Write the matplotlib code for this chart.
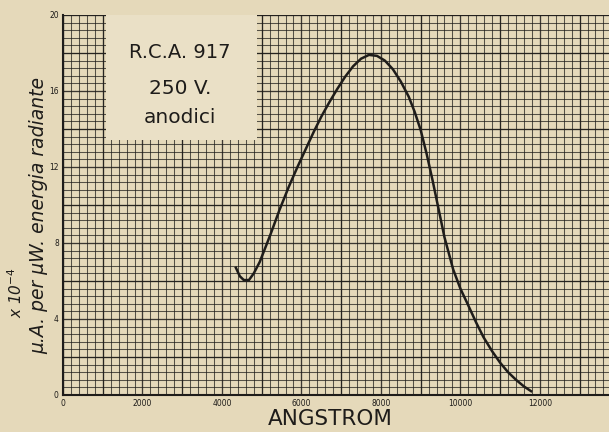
import matplotlib.pyplot as plt
import numpy as np
from matplotlib.patches import Rectangle
from matplotlib.ticker import MultipleLocator

# curva di sensibilita' spettrale
angstrom = [4350, 4450, 4550, 4680, 4800, 4950, 5100, 5230, 5450, 5680, 5900,
            6110, 6310, 6500, 6700, 6900, 7100, 7300, 7500, 7700, 7900, 8100,
            8300, 8500, 8700, 8850, 9000, 9150, 9300, 9450, 9600, 9820, 10000,
            10180, 10400, 10580, 10800, 11000, 11200, 11400, 11600, 11780]
corrente = [6.7, 6.25, 6.05, 6.05, 6.4, 7.0, 7.8, 8.5, 9.75, 10.95, 12.0,
            12.95, 13.85, 14.65, 15.4, 16.1, 16.75, 17.3, 17.7, 17.9, 17.85, 17.6,
            17.15, 16.5, 15.7, 14.9, 13.95, 12.7, 11.3, 9.8, 8.3, 6.6, 5.6,
            4.8, 3.8, 3.05, 2.3, 1.7, 1.2, 0.8, 0.45, 0.2]

xticks = [0, 2000, 4000, 6000, 8000, 10000, 12000]
yticks = [0, 4, 8, 12, 16, 20]

carta = "#e5d9ba"
inchiostro = "#1e1c1a"

fig = plt.figure(figsize=(6.09, 4.32), dpi=100, facecolor=carta)
ax = fig.add_axes([63 / 609, 1 - 395 / 432, 1 - 63 / 609, 380 / 432])
ax.set_facecolor(carta)

ax.set_xlim(0, 13740)
ax.set_ylim(0, 20)
ax.set_xticks(xticks)
ax.set_yticks(yticks)
ax.xaxis.set_minor_locator(MultipleLocator(200))
ax.yaxis.set_minor_locator(MultipleLocator(0.4))
ax.set_axisbelow(True)
ax.grid(which="minor", color=inchiostro, lw=0.75, alpha=0.72)
ax.grid(which="major", color=inchiostro, lw=0.95, alpha=0.85)
# righe un po' piu' marcate ogni 1000 A e ogni 2 unita'
for xv in np.arange(1000, 14000, 2000):
    ax.axvline(xv, color=inchiostro, lw=0.95, alpha=0.85, zorder=0.6)
for yv in np.arange(2, 20, 4):
    ax.axhline(yv, color=inchiostro, lw=0.95, alpha=0.85, zorder=0.6)
ax.axhline(20, color=inchiostro, lw=1.2, zorder=0.6)

ax.tick_params(which="both", length=0, labelsize=5.5, colors=inchiostro, pad=3)
ax.set_xticklabels([str(t) for t in xticks])
ax.set_yticklabels([str(t) for t in yticks])

for s in ["top", "right"]:
    ax.spines[s].set_visible(False)
for s in ["left", "bottom"]:
    ax.spines[s].set_color(inchiostro)
    ax.spines[s].set_linewidth(1.5)

# riquadro con la legenda del tubo
ax.add_patch(Rectangle((1080, 13.4), 3800, 6.6, facecolor="#eae0c6",
                       edgecolor="none", zorder=1))
ax.text(2950, 18.05, "R.C.A. 917", ha="center", va="center", fontsize=14,
        color=inchiostro, zorder=3)
ax.text(2950, 16.15, "250 V.", ha="center", va="center", fontsize=14.5,
        color=inchiostro, zorder=3)
ax.text(2950, 14.6, "anodici", ha="center", va="center", fontsize=14.5,
        color=inchiostro, zorder=3)

ax.plot(angstrom, corrente, color=inchiostro, lw=1.8, zorder=2,
        solid_joinstyle="round")

fig.text(330 / 609, 1 - 419 / 432, "ANGSTROM", ha="center", va="center",
         fontsize=15.5, color=inchiostro)
fig.text(39 / 609, 1 - 216 / 432, "\u03bc.A. per \u03bcW. energia radiante",
         rotation=90, ha="center", va="center", fontsize=13.5,
         style="italic", color=inchiostro)
fig.text(16 / 609, 1 - 293 / 432, "x 10$^{-4}$", rotation=90, ha="center",
         va="center", fontsize=11, style="italic", color=inchiostro)

fig.savefig("out.png", dpi=100, facecolor=carta)
